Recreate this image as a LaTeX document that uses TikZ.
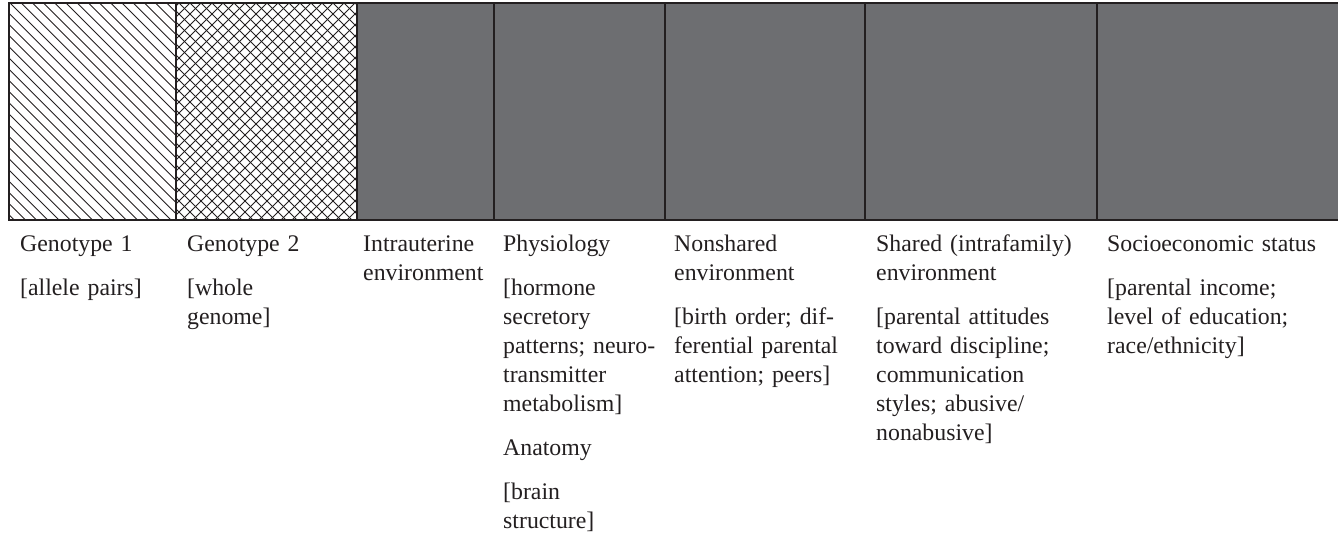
\documentclass[tikz,border=0pt]{standalone}
\usepackage{fontspec}
\setmainfont{Liberation Serif}
\definecolor{ink}{HTML}{231F20}
\definecolor{fillgray}{HTML}{6D6E71}
\begin{document}
\begin{tikzpicture}[x=1pt,y=-1pt,
  lbl/.style={anchor=base west, inner sep=0pt, text width=235pt, align=left,
    font=\fontsize{23.8}{29}\selectfont, text=ink},
  hatch/.style={draw=ink, line width=0.9pt},
  frame/.style={draw=ink, line width=1.5pt}]
\useasboundingbox (0,0) rectangle (1338,538);
% grey columns
\fill[fillgray] (357,3) rectangle (1338,220);
% column 1: single hatching
\begin{scope}
  \clip (9,3) rectangle (176,220);
  \foreach \i in {-21,...,16} \draw[hatch] ({10+\i*11.2},3) -- ++(217,217);
\end{scope}
% column 2: cross hatching
\begin{scope}
  \clip (176,3) rectangle (357,220);
  \foreach \i in {-21,...,17} \draw[hatch] ({179+\i*11},3) -- ++(217,217);
  \foreach \i in {0,...,37} \draw[hatch] ({179+\i*11},3) -- ++(-217,217);
\end{scope}
% frame and dividers
\draw[frame] (1338,3) -- (9,3) -- (9,220) -- (1338,220);
\foreach \x in {176,357,494,665,865,1097} \draw[frame] (\x,3) -- (\x,220);
% labels
\node[lbl] (g1) at (20,251) {Genotype 1\\[15pt][allele pairs]};
\node[lbl] (g2) at (187,251) {Genotype 2\\[15pt][whole\\genome]};
\node[lbl] (iu) at (363,251) {Intrauterine\\environment};
\node[lbl] (ph) at (503,251) {Physiology\\[15pt][hormone\\secretory\\patterns; neuro-\\transmitter\\metabolism]\\[15pt]Anatomy\\[15pt][brain\\structure]};
\node[lbl] (ns) at (674,251) {Nonshared\\environment\\[15pt][birth order; dif-\\ferential parental\\attention; peers]};
\node[lbl] (sh) at (876,251) {Shared (intrafamily)\\environment\\[15pt][parental attitudes\\toward discipline;\\communication\\styles; abusive/\\nonabusive]};
\node[lbl] (se) at (1107,251) {Socioeconomic status\\[15pt][parental income;\\level of education;\\race/ethnicity]};
\end{tikzpicture}
\end{document}
